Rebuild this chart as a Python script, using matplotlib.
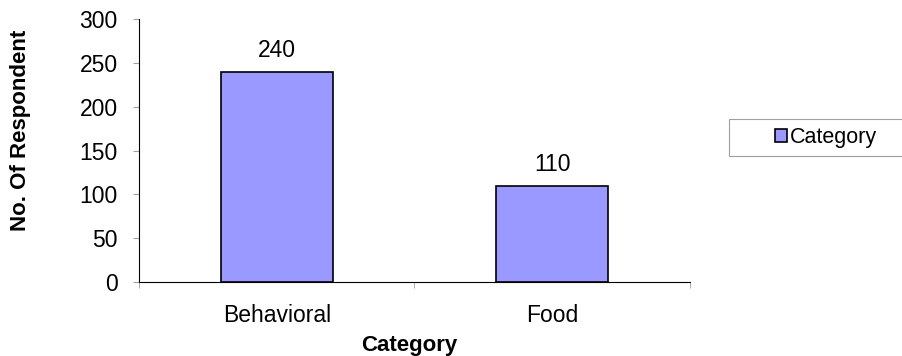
import matplotlib
matplotlib.use('Agg')
import matplotlib.pyplot as plt
from matplotlib.patches import Rectangle

categories = ['Behavioral', 'Food']
respondents = [240, 110]
yticks = [0, 50, 100, 150, 200, 250, 300]

plt.rcParams['font.family'] = ['Liberation Sans', 'DejaVu Sans']
FS = 16.5      # tick / value labels
FS_LEG = 15.5
FS_TITLE = 16  # bold axis titles
W, H = 903, 356

fig = plt.figure(figsize=(W / 100, H / 100), dpi=100)
ax = fig.add_axes([139 / W, 1 - 282 / H, (690 - 139) / W, (282 - 19) / H])

x = list(range(len(categories)))
bars = ax.bar(x, respondents, width=0.405, color='#9999FF', edgecolor='black',
              linewidth=1.2, label='Category', zorder=3)
for xi, v in zip(x, respondents):
    ax.annotate(str(v), (xi, v), xytext=(0, 7), textcoords='offset points',
                ha='center', va='bottom', fontsize=FS)

ax.set_xlim(-0.5, len(categories) - 0.5)
ax.set_ylim(0, 300)
ax.set_yticks(yticks)
ax.set_yticklabels([str(t) for t in yticks], fontsize=FS)

# category labels centred, tick marks at boundaries
ax.set_xticks(x)
ax.set_xticklabels(categories, fontsize=FS)
ax.tick_params(axis='x', length=0, pad=16)
ax.set_xticks([-0.5, 0.5, 1.5], minor=True)
ax.tick_params(axis='x', which='minor', length=4.3, color='#a0a0a0', direction='out')
ax.tick_params(axis='y', length=4.3, color='#a0a0a0', direction='out', pad=11)

for side in ['top', 'right']:
    ax.spines[side].set_visible(False)
ax.spines['left'].set_color('black')
ax.spines['bottom'].set_color('black')

fig.text(26 / W, 1 - 130.5 / H, 'No. Of Respondent', rotation=90, rotation_mode='anchor',
         ha='center', va='baseline', fontsize=FS_TITLE, fontweight='bold')
fig.text(409.5 / W, 1 - 351 / H, 'Category', ha='center', va='baseline',
         fontsize=FS_TITLE, fontweight='bold')

# legend box runs off the right edge in the original
fig.patches.append(Rectangle((729 / W, 1 - 156 / H), 200 / W, 37 / H,
                             transform=fig.transFigure, facecolor='white',
                             edgecolor='#a0a0a0', linewidth=0.8))
fig.legend(handles=[bars], labels=['Category'], loc='center left',
           bbox_to_anchor=(775 / W, 1 - 138 / H), fontsize=FS_LEG,
           frameon=False, handlelength=0.55, handleheight=0.55,
           handletextpad=0.15, borderpad=0, borderaxespad=0)

fig.savefig('out.png', dpi=100)
